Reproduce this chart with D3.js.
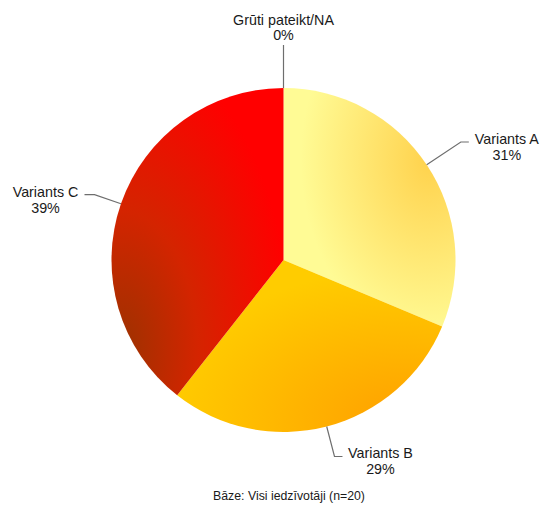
<!DOCTYPE html>
<html><head><meta charset="utf-8">
<script src="https://cdn.jsdelivr.net/npm/d3@7"></script>
<style>body{margin:0;background:#fff}svg{display:block}text{font-family:"Liberation Sans",Arial,sans-serif;fill:#1a1a1a}</style>
</head><body><svg id="c" width="544" height="508"></svg>
<script>
const categories = ["Variants A","Variants B","Variants C","Grūti pateikt/NA"];
const values = [31,29,39,0];
const labels = ["31%","29%","39%","0%"];
const footer = "Bāze: Visi iedzīvotāji (n=20)";

const svg = d3.select("#c");
const cx = 283.5, cy = 260, R = 172;
const defs = svg.append("defs");
const grads = [
  {id:"gA", cx:0.85, cy:0.3, r:0.75, stops:[["0%","#FFD24C"],["35%","#FFE066"],["100%","#FFFB95"]]},
  {id:"gB", cx:0.85, cy:0.95, r:0.9, stops:[["0%","#FFA000"],["100%","#FFCC00"]]},
  {id:"gC", cx:0.05, cy:0.85, r:1.0, stops:[["0%","#9C3200"],["45%","#D42400"],["100%","#FF0000"]]},
  {id:"gD", cx:0.5, cy:0.5, r:0.5, stops:[["0%","#cccccc"],["100%","#cccccc"]]}
];
grads.forEach(g=>{
  const el = defs.append("radialGradient").attr("id",g.id).attr("cx",g.cx).attr("cy",g.cy).attr("r",g.r);
  g.stops.forEach(s=>el.append("stop").attr("offset",s[0]).attr("stop-color",s[1]));
});

const pie = d3.pie().sort(null).value(d=>d)(values);
const arc = d3.arc().innerRadius(0).outerRadius(R);
const g = svg.append("g").attr("transform",`translate(${cx},${cy})`);
g.selectAll("path").data(pie).enter().append("path")
  .attr("d",arc).attr("fill",(d,i)=>`url(#${grads[i].id})`);

const elbowR = [213, 203, 200, 215];
pie.forEach((d,i)=>{
  const a = (d.startAngle + d.endAngle)/2;
  const p0 = [R*Math.sin(a), -R*Math.cos(a)];
  const p1 = [elbowR[i]*Math.sin(a), -elbowR[i]*Math.cos(a)];
  const lg = svg.append("g").attr("transform",`translate(${cx},${cy})`);
  if (d.value === 0) {
    lg.append("line").attr("x1",p0[0]).attr("y1",p0[1]).attr("x2",p1[0]).attr("y2",p1[1])
      .attr("stroke","#6e6e6e").attr("stroke-width",1.2);
    const t = lg.append("text").attr("text-anchor","middle").attr("font-size",14.3);
    t.append("tspan").attr("x",p1[0]).attr("y",p1[1]-20).text(categories[i]);
    t.append("tspan").attr("x",p1[0]).attr("y",p1[1]-5).text(labels[i]);
    return;
  }
  const right = Math.sin(a) > 0;
  const p2 = [p1[0] + (right?8:-10), p1[1]];
  lg.append("polyline").attr("points",[p0,p1,p2].map(p=>p.join(",")).join(" "))
    .attr("fill","none").attr("stroke","#6e6e6e").attr("stroke-width",1.2);
  const tx = p2[0] + (right?38:-39);
  const t = lg.append("text").attr("text-anchor","middle").attr("font-size",14.3);
  t.append("tspan").attr("x",tx).attr("y",p1[1]+2).text(categories[i]);
  t.append("tspan").attr("x",tx).attr("y",p1[1]+18).text(labels[i]);
});

svg.append("text").attr("x",289).attr("y",500).attr("text-anchor","middle")
  .attr("font-size",12.3).text(footer);
</script></body></html>
